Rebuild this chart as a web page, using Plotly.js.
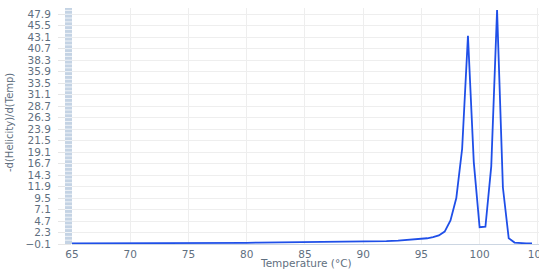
<!DOCTYPE html>
<html>
<head>
<meta charset="utf-8">
<script src="https://cdn.plot.ly/plotly-3.0.1.min.js"></script>
<style>html,body{margin:0;padding:0;background:#fff;}#chart{width:539px;height:269px;}</style>
</head>
<body>
<div id="chart"></div>
<script>
var temperature = [65,66,67,68,69,70,71,72,73,74,75,76,77,78,79,80,81,82,83,84,85,86,87,88,89,90,91,92,93,94,95,
  95.5,96,96.5,97,97.5,98,98.5,99,99.5,100,100.5,101,101.5,102,102.5,103,103.5,104,104.5];
var helicityDeriv = [0.02,0.02,0.02,0.02,0.03,0.03,0.03,0.04,0.04,0.05,0.05,0.06,0.08,0.1,0.12,0.15,0.18,0.2,0.2,0.22,0.28,0.3,0.3,0.32,0.34,0.38,0.42,0.5,0.6,0.75,0.95,
  1.1,1.35,1.7,2.5,4.8,9.5,19.8,43.4,17.0,3.4,3.5,16.1,48.8,11.7,1.1,0.2,0.05,0.02,0.02];
var yTick0 = -0.1, yDtick = 2.4;
var xTitle = 'Temperature (°C)';
var yTitle = '-d(Helicity)/d(Temp)';

var tickColor = '#5f6f80';
var font = {family: 'DejaVu Sans, sans-serif', size: 10.5, color: tickColor};
var titleFont = {family: 'DejaVu Sans, sans-serif', size: 10.5, color: tickColor};
var yTitleFont = {family: 'DejaVu Sans, sans-serif', size: 10, color: tickColor};

var yMin = -0.1, yMax = 49.2;
var shapes = [{type: 'rect', xref: 'paper', yref: 'paper', xsizemode: 'pixel', xanchor: 0,
  x0: -7, x1: 0, y0: 0, y1: 1, fillcolor: '#c4d3e4', line: {width: 0}, layer: 'above'}];
for (var s = yMin + 0.8; s < yMax; s += 0.8) {
  shapes.push({type: 'line', xref: 'paper', yref: 'y', xsizemode: 'pixel', xanchor: 0,
    x0: -7, x1: 0, y0: s, y1: s, line: {color: 'rgba(255,255,255,0.75)', width: 1}, layer: 'above'});
}

var trace = {x: temperature, y: helicityDeriv, type: 'scatter', mode: 'lines',
  line: {color: '#1f4fe8', width: 1.8}, hoverinfo: 'skip'};

var layout = {
  width: 539, height: 269,
  margin: {l: 72, r: 0, t: 8, b: 25},
  paper_bgcolor: '#fff', plot_bgcolor: '#fff',
  font: font,
  showlegend: false,
  xaxis: {range: [65, 105.1], tickmode: 'linear', tick0: 65, dtick: 5,
    showgrid: true, gridcolor: '#eeeeee', zeroline: false,
    showline: true, linecolor: '#ccd6e2', linewidth: 1,
    ticks: '', tickfont: font, ticklabelstandoff: 0, ticklabeloverflow: 'allow'},
  yaxis: {range: [yMin, yMax], tickmode: 'linear', tick0: yTick0, dtick: yDtick,
    tickformat: '.1f', showgrid: true, gridcolor: '#eeeeee', zeroline: false,
    showline: false, ticks: 'outside', ticklen: 13, tickcolor: '#e6e6e6',
    tickfont: font, ticklabelstandoff: 5},
  annotations: [
    {text: xTitle, xref: 'paper', yref: 'paper', x: 0.5, y: 0, yshift: -19,
      xanchor: 'center', yanchor: 'middle', showarrow: false, font: titleFont},
    {text: yTitle, xref: 'paper', yref: 'paper', x: 0, y: 0.5, xshift: -63, yshift: 3,
      xanchor: 'center', yanchor: 'middle', textangle: -90, showarrow: false, font: yTitleFont}
  ],
  shapes: shapes
};
Plotly.newPlot('chart', [trace], layout, {displayModeBar: false, staticPlot: true});
</script>
</body>
</html>
